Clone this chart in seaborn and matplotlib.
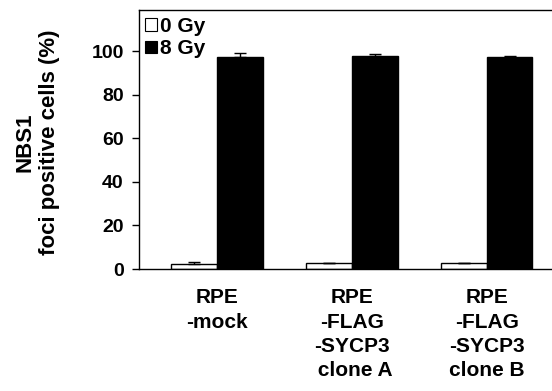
import matplotlib
matplotlib.use("Agg")
import matplotlib.pyplot as plt
import matplotlib.patches as mpatches
import numpy as np
import pandas as pd
import seaborn as sns

# Values
cells = ["RPE\n-mock", "RPE\n-FLAG\n-SYCP3\n clone A", "RPE\n-FLAG\n-SYCP3\nclone B"]
doses = ["0 Gy", "8 Gy"]
pct_0gy = [2.5, 2.7, 2.7]
err_0gy = [0.5, 0.2, 0.2]
pct_8gy = [97.4, 97.8, 97.4]
err_8gy = [1.8, 1.2, 0.5]

df = pd.DataFrame({
    "cell": cells * 2,
    "dose": [doses[0]] * 3 + [doses[1]] * 3,
    "pct": pct_0gy + pct_8gy,
})

sns.set_style("ticks")
plt.rcParams["font.family"] = ["Liberation Sans", "DejaVu Sans"]
plt.rcParams["font.weight"] = "bold"
plt.rcParams["text.color"] = "black"
plt.rcParams["xtick.color"] = "black"
plt.rcParams["ytick.color"] = "black"
plt.rcParams["axes.edgecolor"] = "black"

fig = plt.figure(figsize=(5.52, 3.91), dpi=100)
ax = fig.add_axes([139 / 552, 1 - 269 / 391, 1 - 139 / 552 + 0.01, (269 - 10) / 391])

sns.barplot(data=df, x="cell", y="pct", hue="dose", hue_order=doses,
            palette=["white", "black"], edgecolor="black", linewidth=1,
            width=0.68, errorbar=None, legend=False, ax=ax)

# upward-only error bars on each bar
for cont, errs in zip(ax.containers, [err_0gy, err_8gy]):
    xs = [b.get_x() + b.get_width() / 2 for b in cont]
    ys = [b.get_height() for b in cont]
    ax.errorbar(xs, ys, yerr=[np.zeros(len(errs)), errs], fmt="none",
                ecolor="black", elinewidth=1, capsize=4, capthick=1)

ax.set_ylim(0, 119)
ax.set_xlim(-0.579, 2.526)
ax.set_yticks(range(0, 101, 20))
ax.tick_params(axis="y", labelsize=14, length=5, width=1, pad=6)
ax.tick_params(axis="x", labelsize=15, length=0, pad=14)
for lab in ax.get_yticklabels():
    lab.set_fontweight("bold")
for lab in ax.get_xticklabels():
    lab.set_fontweight("bold")
    lab.set_linespacing(1.35)
ax.set_xlabel("")
ax.set_ylabel("")
for s in ["left", "bottom", "top"]:
    ax.spines[s].set_linewidth(1)
ax.spines["right"].set_visible(False)

fig.text(37 / 552, 1 - 142 / 391, "NBS1\nfoci positive cells (%)", rotation=90,
         ha="center", va="center", fontsize=16, fontweight="bold",
         multialignment="center")

handles = [mpatches.Patch(facecolor="white", edgecolor="black", linewidth=0.8),
           mpatches.Patch(facecolor="black", edgecolor="black", linewidth=0.8)]
leg = ax.legend(handles, doses, loc="upper left", frameon=False,
                bbox_to_anchor=(-0.005, 1.005), handlelength=0.55, handleheight=0.55,
                handletextpad=0.15, labelspacing=0.15, borderaxespad=0,
                prop={"size": 15, "weight": "bold"})

fig.savefig("out.png", dpi=100)
